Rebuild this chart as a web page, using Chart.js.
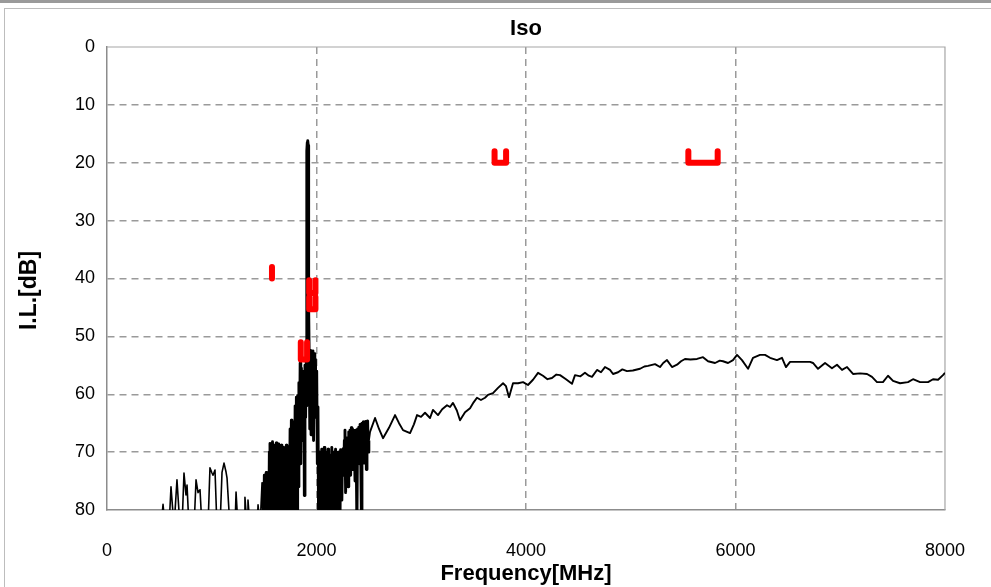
<!DOCTYPE html>
<html><head><meta charset="utf-8">
<script src="https://cdn.jsdelivr.net/npm/chart.js@4.4.0/dist/chart.umd.min.js"></script>
<style>
html,body{margin:0;padding:0;background:#fff;width:991px;height:587px;overflow:hidden;}
#topbar{position:absolute;left:0;top:0;width:991px;height:3px;background:#9a9a9a;}
#frame{position:absolute;left:4px;top:8px;width:1000px;height:600px;border:1px solid #bdbdbd;}
#wrap{position:absolute;left:0;top:0;width:995px;height:587px;}
</style></head><body>
<div id="topbar"></div><div id="frame"></div>
<div id="wrap"><canvas id="c" width="995" height="587"></canvas></div>
<script>
const chartTitle = 'Iso';
const xTitle = 'Frequency[MHz]';
const yTitle = 'I.L.[dB]';
const xTicks = [0, 2000, 4000, 6000, 8000];
const yTicks = [0, 10, 20, 30, 40, 50, 60, 70, 80];

// measured isolation sweep (MHz, dB) - low band, sparse ripples
const lowFreq = [
 458,516,535,554,592,611,640,668,697,716,735,754,764,783,831,850,869,888,907,964,
 983,1002,1012,1031,1050,1079,1098,1117,1136,1146,1174,1222,1232,1251,1308,1317,1337,1346,1365,1432,
 1442,1461,1480,1489
];
const lowIL = [
 83,83,79.0,83,83,76.0,83,74.8,83,83,73.6,77.4,75.7,83,83,74.8,77.0,76.5,83,83,
 72.7,73.6,74.0,73.1,83,83,73.5,71.9,73.4,74.5,83,83,76.9,83,83,77.8,83,78.3,83,83,
 79.1,83,75.3,83
];
// dense band around the PCS frequencies
const midFreq = [
 1489,1496,1502,1508,1514,1520,1526,1532,1538,1544,1550,1556,1562,1568,1574,1580,1586,1592,1598,1604,1610,
 1616,1622,1628,1634,1640,1646,1652,1658,1664,1670,1676,1682,1688,1694,1700,1706,1712,1718,1724,1730,
 1736,1742,1748,1754,1760,1766,1772,1778,1784,1790,1796,1802,1808,1814,1820,1826,1832,1838,1844,1850,
 1856,1862,1868,1874,1880,1884,1890,1896,1902,1906,1909,1912,1915,1918,1921,1925,1930,1936,1942,1948,
 1954,1960,1966,1972,1978,1984,1990,1996,2002,2008,2014,2020,2026,2032,2038,2044,2050,2056,2062,2068,
 2074,2080,2086,2092,2098,2104,2110,2116,2122,2128,2134,2140,2146,2152,2158,2164,2170,2176,2182,2188,
 2194,2200,2206,2212,2218,2224,2230,2236,2242,2248,2254,2260,2266,2272,2278,2284,2290,2296,2302,2308,
 2314,2320,2326,2332,2338,2344,2350,2356,2362,2368,2374,2380,2386,2392,2398,2404,2410,2416,2422,2428,
 2434,2440,2446,2452,2458,2464,2470,2476,2482,2488,2494,2500
];
const midIL = [
 83,83,74.0,83,75,73.5,83,79,74.5,83,70,68.5,83,69,79,68.2,83,70,68.8,83,76,
 68.4,80,69.5,83,68.6,77,69,83,68.8,81,70,83,69.2,78,70.5,83,68.8,79,69.5,83,
 69,80,66,83,64.5,82,64.8,79,65.5,83,62,78,60.5,82,60.2,76,58,70,54.6,72,
 55.5,68,56,66,58,77.5,55,64,54,62,18,16.5,40,16.2,17,45,53,66,52.4,67,
 52.6,66,52.5,68,53,64,54,62,56,72,62.2,83,70,83,71,82,69.5,83,70,80,
 69.2,83,71,83,70,81,69.5,83,71,83,70.5,79,69.2,83,70,81,71.4,83,69.5,80,
 70.5,83,70,76,71,83,69.6,74,78.3,70,69.4,74,68,66.2,77,67.9,72,67.5,76,66.5,
 73,66.2,74,65.8,71,66,73,66.2,70,75,66.2,72,83,66,71,65.7,72,65.2,70,80,
 65,71,64.8,71.9,65,70,64.7,73,65.5,64.6,70,68
];
// smooth upper band
const highFreq = [
 2500,2511,2559,2597,2635,2692,2750,2788,2826,2893,2930,2960,2998,3036,3084,3112,3160,3200,3246,3275,3303,
 3340,3370,3418,3466,3500,3532,3570,3609,3637,3685,3733,3781,3809,3838,3876,3924,3972,4019,4067,4115,
 4162,4205,4248,4290,4325,4382,4439,4468,4520,4563,4600,4630,4678,4716,4754,4802,4831,4879,4920,4964,
 5020,5089,5130,5165,5232,5279,5310,5346,5394,5442,5480,5518,5570,5633,5690,5738,5805,5850,5881,5929,
 5976,6015,6062,6120,6167,6234,6282,6330,6396,6444,6482,6521,6587,6645,6712,6740,6788,6855,6921,6969,
 7017,7065,7122,7190,7256,7303,7351,7408,7456,7504,7571,7647,7695,7762,7838,7886,7934,7981,8000
];
const highIL = [
 68,66.5,64.1,66.0,67.6,65.8,63.6,65.0,66.2,66.7,65.2,63.6,63.9,63.2,64.1,62.7,63.6,62.6,61.9,62.2,61.5,
 62.8,64.5,63.1,62.4,61.4,60.6,61.0,60.6,60.1,59.8,58.9,58.1,58.6,60.5,58.1,58.1,57.9,58.4,57.5,56.3,
 56.8,57.4,57.2,56.6,56.7,57.4,58.2,56.7,56.9,56.3,56.8,57.0,55.8,56.2,55.3,55.8,56.5,56.2,55.7,56.0,
 55.9,55.6,55.2,55.1,54.8,55.3,54.6,54.1,55.3,54.9,54.3,53.9,54.0,53.9,53.6,54.3,54.6,54.2,54.3,54.6,
 54.1,53.2,54.1,55.6,53.7,53.2,53.2,53.7,54.1,53.7,55.3,54.4,54.4,54.4,54.4,54.6,55.6,54.6,55.5,54.9,
 55.8,55.3,56.5,56.4,56.5,57.0,57.9,57.9,56.8,57.7,58.1,57.9,57.4,57.9,57.9,57.4,57.5,56.7,56.3
];

// specification limits (MHz, dB)
const limGpsFreq = [1575, 1575];
const limGpsIL = [38, 40];
const limTxFreq = [1850, 1850, 1910, 1910];
const limTxIL = [51, 54, 54, 51];
const limRxAFreq = [1930, 1930, 1990, 1990];
const limRxAIL = [40.3, 42.5, 42.5, 40.3];
const limRxBFreq = [1930, 1930, 1990, 1990];
const limRxBIL = [43.2, 45.3, 45.3, 43.2];
const limB1Freq = [3700, 3700, 3810, 3810];
const limB1IL = [18, 20, 20, 18];
const limB2Freq = [5550, 5550, 5830, 5830];
const limB2IL = [18, 20, 20, 18];

const pts = (xs, ys) => xs.map((x, i) => ({x: x, y: ys[i]}));
const FONT = "'Liberation Sans', Arial, sans-serif";

const redSet = (xs, ys) => ({
  data: pts(xs, ys), showLine: true, borderColor: '#ff0000', backgroundColor: '#ff0000',
  borderWidth: 6, pointRadius: 0, borderCapStyle: 'round', borderJoinStyle: 'round', order: 0
});
const blackSet = (xs, ys, w) => ({
  data: pts(xs, ys), showLine: true, borderColor: '#000000', borderWidth: w,
  pointRadius: 0, borderJoinStyle: 'round', order: 1
});

const framePlugin = {
  id: 'frame',
  beforeDatasetsDraw(chart) {
    const {ctx, chartArea: a} = chart;
    ctx.save();
    ctx.strokeStyle = '#a6a6a6';
    ctx.lineWidth = 1.2;
    ctx.beginPath();
    ctx.moveTo(a.left, a.top); ctx.lineTo(a.right, a.top); ctx.lineTo(a.right, a.bottom);
    ctx.stroke();
    ctx.restore();
  },
  afterDraw(chart) {
    const {ctx, chartArea: a} = chart;
    ctx.save();
    ctx.translate(30, (a.top + a.bottom) / 2 + 12);
    ctx.rotate(-Math.PI / 2);
    ctx.font = "bold 23px " + FONT;
    ctx.fillStyle = '#000';
    ctx.textAlign = 'center';
    ctx.textBaseline = 'middle';
    ctx.fillText(yTitle, 0, 0);
    ctx.restore();
  }
};

const gridCol = (lo, hi) => (c) => (c.tick && (c.tick.value === lo || c.tick.value === hi)) ? 'rgba(0,0,0,0)' : '#9a9a9a';

new Chart(document.getElementById('c'), {
  type: 'scatter',
  data: {
    datasets: [
      redSet(limGpsFreq, limGpsIL), redSet(limTxFreq, limTxIL), redSet(limRxAFreq, limRxAIL),
      redSet(limRxBFreq, limRxBIL), redSet(limB1Freq, limB1IL), redSet(limB2Freq, limB2IL),
      blackSet(lowFreq, lowIL, 1.6), blackSet(midFreq, midIL, 2.9), blackSet(highFreq, highIL, 1.9)
    ]
  },
  options: {
    responsive: false, animation: false, devicePixelRatio: 1,
    layout: { padding: {left: 0, right: 0, top: 0, bottom: 0}, autoPadding: false },
    plugins: {
      legend: {display: false}, tooltip: {enabled: false},
      title: { display: true, text: chartTitle, color: '#000', fullSize: false,
        font: {family: FONT, size: 22, weight: 'bold'}, padding: {top: 16, bottom: 4.6} }
    },
    scales: {
      x: {
        type: 'linear', min: 0, max: 8000,
        afterFit: (s) => { s.height = 77; },
        afterBuildTicks: (s) => { s.ticks = xTicks.map(v => ({value: v})); },
        ticks: { color: '#000', font: {family: FONT, size: 18}, padding: 30, maxRotation: 0,
          callback: (v) => String(v) },
        grid: { drawTicks: false, color: gridCol(0, 8000), lineWidth: 1.5 },
        border: { display: true, color: '#8c8c8c', width: 1.5, dash: [7, 5] },
        title: { display: true, text: xTitle, color: '#000',
          font: {family: FONT, size: 22, weight: 'bold'}, padding: {top: 0, bottom: 0} }
      },
      y: {
        type: 'linear', min: 0, max: 80, reverse: true,
        afterFit: (s) => { s.width = 107; },
        afterBuildTicks: (s) => { s.ticks = yTicks.map(v => ({value: v})); },
        ticks: { color: '#000', font: {family: FONT, size: 18}, padding: 12, callback: (v) => String(v) },
        grid: { drawTicks: false, color: gridCol(0, 80), lineWidth: 1.5 },
        border: { display: true, color: '#8c8c8c', width: 1.5, dash: [7, 5] },
        title: { display: false }
      }
    }
  },
  plugins: [framePlugin]
});
</script>
</body></html>
